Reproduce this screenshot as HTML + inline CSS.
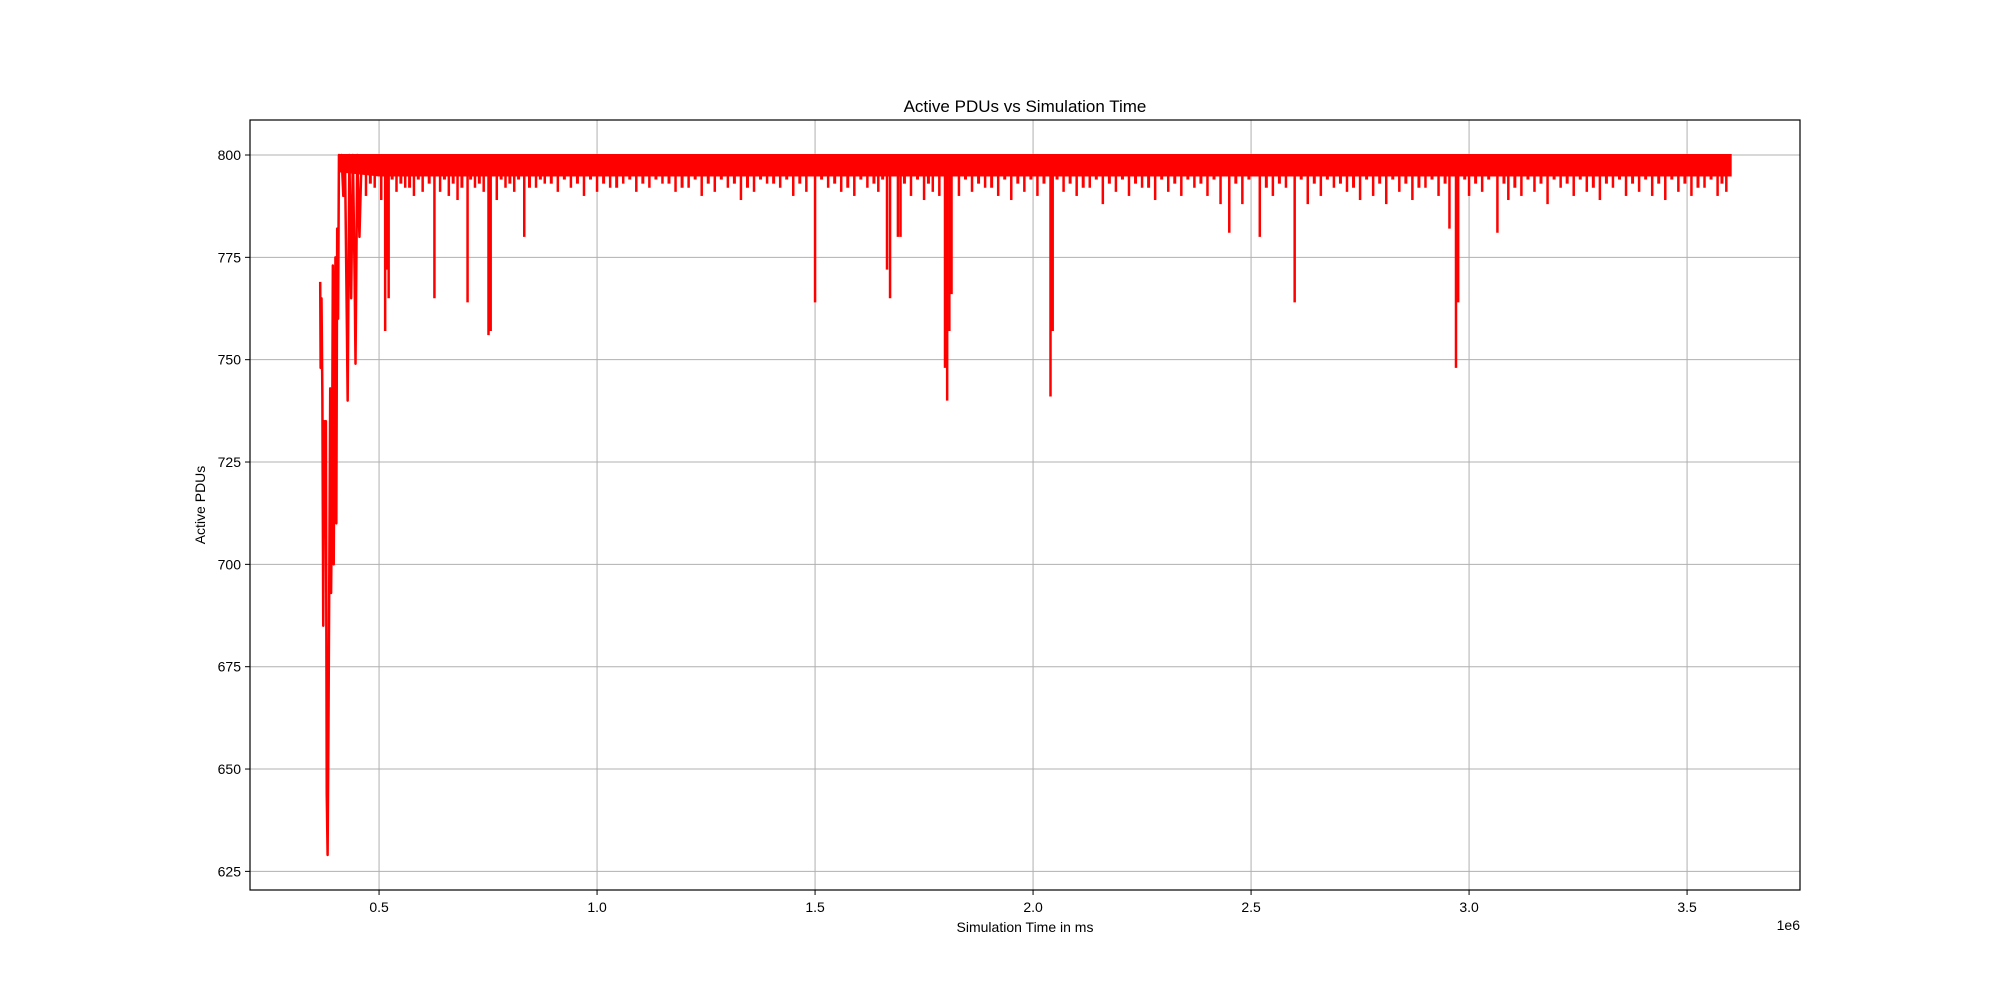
<!DOCTYPE html>
<html><head><meta charset="utf-8"><style>
body{margin:0;background:#fff}
svg{display:block;font-family:"Liberation Sans","DejaVu Sans",sans-serif}
</style></head><body>
<svg id="chart" width="2000" height="1000">
<rect width="2000" height="1000" fill="#fff"/>
<g id="grid"></g>
<g id="series"></g>
<rect x="250" y="120" width="1550" height="770" fill="none" stroke="#000" stroke-width="1.2"/>
<g id="axes" font-size="14"></g>
<text x="1025" y="112" text-anchor="middle" font-size="17">Active PDUs vs Simulation Time</text>
<text x="1025" y="932" text-anchor="middle" font-size="14">Simulation Time in ms</text>
<text x="1800" y="930" text-anchor="end" font-size="14">1e6</text>
<text transform="translate(205,505) rotate(-90)" text-anchor="middle" font-size="14">Active PDUs</text>
</svg>
<script>
const xTicks=[0.5,1.0,1.5,2.0,2.5,3.0,3.5];
const xTickLabels=["0.5","1.0","1.5","2.0","2.5","3.0","3.5"];
const yTicks=[625,650,675,700,725,750,775,800];
const rampTimes=[0.365,0.366,0.368,0.370,0.372,0.374,0.376,0.378,0.380,0.382,0.384,0.386,0.388,0.390,0.392,0.394,0.396,0.398,0.400,0.402,0.404,0.406,0.408,0.410,0.414,0.418,0.422,0.426,0.428,0.432,0.436,0.440,0.444,0.446,0.450,0.455,0.460];
const rampValues=[769,748,765,741,685,735,708,735,644,629,661,700,743,693,717,773,700,743,775,710,782,760,800,796,800,790,798,760,740,800,765,800,770,749,800,780,800];
const bandTimes=[0.41,0.5,1.0,1.5,1.66,1.68,1.79,1.82,2.03,2.05,2.5,2.96,2.98,3.5,3.6];
const bandFloor=[796,795,795,795,795,795,795,795,795,795,795,795,795,795,795];
const dipTimes=[0.47,0.49,0.505,0.514,0.518,0.522,0.54,0.56,0.58,0.60,0.627,0.64,0.66,0.68,0.703,0.72,0.74,0.751,0.756,0.77,0.79,0.81,0.833,0.86,0.88,0.91,0.94,0.97,1.0,1.03,1.06,1.09,1.12,1.15,1.18,1.21,1.24,1.27,1.3,1.33,1.36,1.39,1.42,1.45,1.48,1.50,1.53,1.56,1.59,1.62,1.645,1.665,1.672,1.69,1.696,1.72,1.75,1.77,1.785,1.798,1.803,1.808,1.813,1.83,1.86,1.89,1.92,1.95,1.98,2.01,2.04,2.045,2.07,2.1,2.13,2.16,2.19,2.22,2.25,2.28,2.31,2.34,2.37,2.4,2.43,2.45,2.48,2.52,2.55,2.58,2.60,2.63,2.66,2.69,2.72,2.75,2.78,2.81,2.84,2.87,2.9,2.93,2.955,2.97,2.975,3.0,3.03,3.065,3.09,3.12,3.15,3.18,3.21,3.24,3.27,3.3,3.33,3.36,3.39,3.42,3.45,3.48,3.51,3.54,3.57,3.59];
const dipValues=[790,792,789,757,772,765,791,792,790,791,765,791,790,789,764,792,791,756,757,789,792,791,780,792,793,791,792,790,791,792,793,791,792,793,791,792,790,791,792,789,791,793,792,790,791,764,792,791,790,792,791,772,765,780,780,790,789,791,790,748,740,757,766,790,791,792,790,789,791,790,741,757,791,790,792,788,791,790,792,789,791,790,792,790,788,781,788,780,790,792,764,788,790,792,791,789,790,788,791,789,792,790,782,748,764,790,791,781,789,790,791,788,792,790,791,789,792,790,791,790,789,791,790,792,790,791];
const minorTimes=[0.48,0.53,0.55,0.57,0.59,0.615,0.65,0.67,0.69,0.71,0.73,0.78,0.80,0.82,0.845,0.87,0.895,0.925,0.955,0.985,1.015,1.045,1.075,1.105,1.135,1.165,1.195,1.225,1.255,1.285,1.315,1.345,1.375,1.405,1.435,1.465,1.515,1.545,1.575,1.605,1.635,1.655,1.705,1.735,1.76,1.845,1.875,1.905,1.935,1.965,1.995,2.025,2.055,2.085,2.115,2.145,2.175,2.205,2.235,2.265,2.295,2.325,2.355,2.385,2.415,2.465,2.495,2.535,2.565,2.615,2.645,2.675,2.705,2.735,2.765,2.795,2.825,2.855,2.885,2.915,2.945,2.99,3.015,3.045,3.08,3.105,3.135,3.165,3.195,3.225,3.255,3.285,3.315,3.345,3.375,3.405,3.435,3.465,3.495,3.525,3.555,3.58];
const minorValues=[793,794,793,792,794,793,794,793,792,794,793,794,793,794,792,794,793,794,793,794,793,792,794,793,794,793,792,794,793,794,793,792,794,793,794,793,794,793,792,794,793,794,793,794,793,794,793,792,794,793,794,793,794,793,792,794,793,794,793,792,794,793,794,793,794,793,794,792,793,794,793,794,793,792,794,793,794,793,792,794,793,794,793,794,793,792,794,793,794,793,794,792,793,794,793,794,793,794,793,792,794,793];
const X0=0.204,X1=3.759,Y0=620.45,Y1=808.55;
const xs=t=>250+(t-X0)/(X1-X0)*1550;
const ys=v=>890-(v-Y0)/(Y1-Y0)*770;
const NS="http://www.w3.org/2000/svg";
const grid=document.getElementById('grid'),axes=document.getElementById('axes'),ser=document.getElementById('series');
function mk(tag,attrs,parent){const e=document.createElementNS(NS,tag);for(const k in attrs)e.setAttribute(k,attrs[k]);parent.appendChild(e);return e;}
xTicks.forEach((t,i)=>{const x=xs(t);
 const g=mk('line',{x1:x,x2:x,y1:120,y2:890,stroke:'#b0b0b0','stroke-width':1},grid);
 
 
 const tk=mk('line',{x1:x,x2:x,y1:890,y2:895,stroke:'#000'},axes);
 
 
 const tx=mk('text',{x:x,y:912,'text-anchor':'middle'},axes);tx.textContent=xTickLabels[i];
 
 
});
yTicks.forEach(v=>{const y=ys(v);
 const g=mk('line',{x1:250,x2:1800,y1:y,y2:y,stroke:'#b0b0b0','stroke-width':1},grid);
 
 
 const tk=mk('line',{x1:245,x2:250,y1:y,y2:y,stroke:'#000'},axes);
 
 
 const tx=mk('text',{x:241,y:y+5,'text-anchor':'end'},axes);tx.textContent=String(v);
 
 
});
let d='M'+xs(bandTimes[0])+','+ys(800);
bandTimes.forEach(t=>{d+=' L'+xs(t)+','+ys(800);});
for(let i=bandTimes.length-1;i>=0;i--)d+=' L'+xs(bandTimes[i])+','+ys(bandFloor[i]);
d+='Z';
const band=mk('path',{d:d,fill:'#ff0000',stroke:'#ff0000','stroke-width':2},ser);


const rp=mk('polyline',{points:rampTimes.map((t,i)=>xs(t)+','+ys(rampValues[i])).join(' '),fill:'none',stroke:'#ff0000','stroke-width':2.5,'stroke-linejoin':'round'},ser);


dipTimes.forEach((t,i)=>{
 const l=mk('line',{x1:xs(t),x2:xs(t),y1:ys(800),y2:ys(dipValues[i]),stroke:'#ff0000','stroke-width':2.5},ser);
 
 
});
minorTimes.forEach((t,i)=>{
 const l=mk('line',{x1:xs(t),x2:xs(t),y1:ys(800),y2:ys(minorValues[i]),stroke:'#ff0000','stroke-width':3},ser);
 
 
});
</script>
</body></html>
